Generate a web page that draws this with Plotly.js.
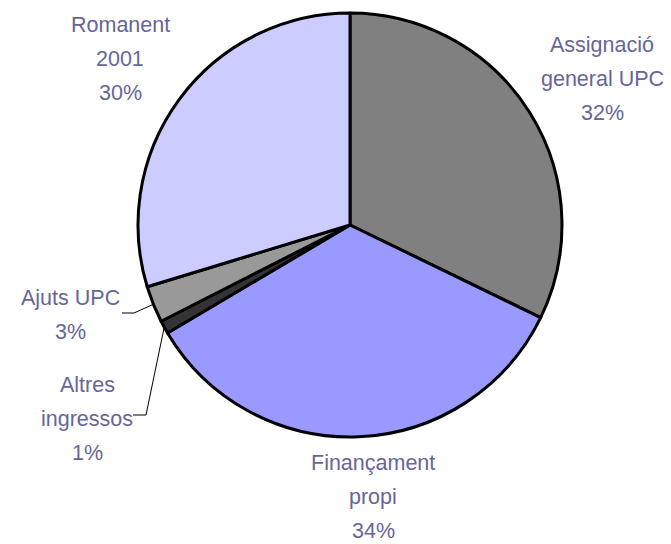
<!DOCTYPE html>
<html>
<head>
<meta charset="utf-8">
<script src="https://cdn.plot.ly/plotly-3.0.1.min.js"></script>
<style>html,body{margin:0;padding:0;background:#fff;}</style>
</head>
<body>
<div id="chart" style="width:671px;height:544px;"></div>
<script>
// Data
const labels = ["Assignació\ngeneral UPC", "Finançament\npropi", "Altres\ningressos", "Ajuts UPC", "Romanent\n2001"];
const values = [32.2, 34.3, 1.0, 2.8, 29.7];
const colors = ["#808080", "#9999ff", "#333333", "#999999", "#ccccff"];

// Layout geometry (pixels)
const W = 671, H = 544;
const cx = 350, cy = 225, R = 212;
const labelPos = [[602, 79], [373, 497], [87, 419], [70, 315], [120, 59]];
const leaderStart = [null, null, [[133, 415], [146, 415]], [[122, 313], [134, 313]], null];
const lineGap = 34;
const txtColor = "#666699";

const px = x => x / W;
const py = y => 1 - y / H;

const total = values.reduce((a, b) => a + b, 0);
const annotations = [];
const shapes = [];
let cum = 0;
values.forEach((v, i) => {
  const pct = Math.round(v / total * 100) + "%";
  const lines = labels[i].split("\n").concat([pct]);
  const n = lines.length;
  lines.forEach((t, k) => {
    annotations.push({
      text: t, showarrow: false, xref: "paper", yref: "paper",
      x: px(labelPos[i][0]), y: py(labelPos[i][1] + (k - (n - 1) / 2) * lineGap),
      xanchor: "center", yanchor: "middle", borderpad: 0,
      font: {family: "Liberation Sans, Arial, sans-serif", size: 21.5, color: txtColor}
    });
  });
  const mid = (cum + v / 2) / total * 2 * Math.PI;
  cum += v;
  if (leaderStart[i]) {
    const ex = cx + R * Math.sin(mid), ey = cy - R * Math.cos(mid);
    const pts = leaderStart[i].concat([[ex, ey]]);
    for (let k = 0; k < pts.length - 1; k++) {
      shapes.push({type: "line", xref: "paper", yref: "paper",
        x0: px(pts[k][0]), y0: py(pts[k][1]), x1: px(pts[k+1][0]), y1: py(pts[k+1][1]),
        line: {color: "#000", width: 1}});
    }
  }
});

const trace = {
  type: "pie",
  labels: labels.map(l => l.replace("\n", " ")),
  values: values,
  sort: false,
  direction: "clockwise",
  rotation: 0,
  textinfo: "none",
  hoverinfo: "label+percent",
  marker: {colors: colors, line: {color: "#000", width: 3}},
  domain: {x: [px(cx - R), px(cx + R)], y: [py(cy + R), py(cy - R)]},
  showlegend: false
};

Plotly.newPlot("chart", [trace], {
  width: W, height: H,
  margin: {l: 0, r: 0, t: 0, b: 0},
  paper_bgcolor: "#fff",
  showlegend: false,
  annotations: annotations,
  shapes: shapes
}, {displayModeBar: false, staticPlot: true});
</script>
</body>
</html>
